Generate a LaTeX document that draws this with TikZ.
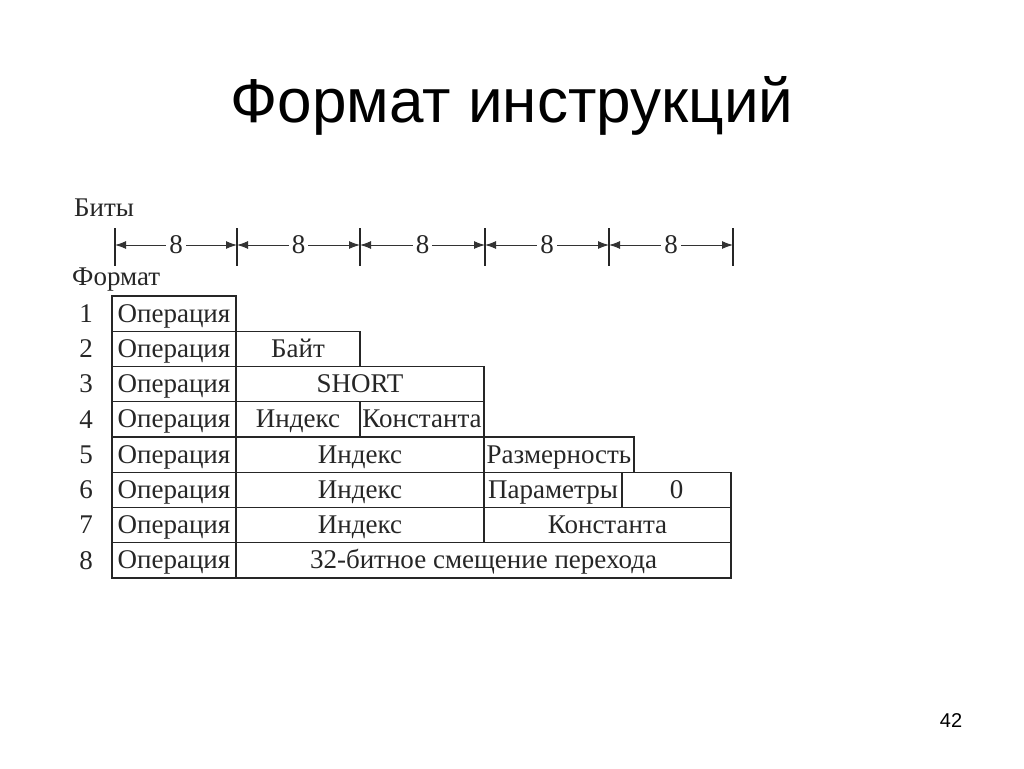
\documentclass[tikz,border=0pt]{standalone}
\usepackage{fontspec}
\setmainfont{Liberation Serif}
\newfontfamily\titlefont{Liberation Sans}
\usetikzlibrary{arrows.meta}
\begin{document}
\begin{tikzpicture}[x=1pt,y=-1pt,
  cell/.style={draw=black!85, line width=1.3pt, inner sep=0pt, outer sep=0pt,
    anchor=north west, minimum height=35.25pt, text height=20pt, text depth=3pt,
    font=\fontsize{27}{27}\selectfont, text=black!85},
  lbl/.style={font=\fontsize{27}{27}\selectfont, text=black!85, inner sep=0pt},
  dim/.style={{Latex[length=11pt,width=8pt]}-{Latex[length=11pt,width=8pt]}, line width=1pt, draw=black!80},
  tickline/.style={line width=1.4pt, draw=black!85}]
\useasboundingbox (0,0) rectangle (1024,768);

% title and page number
\node[font=\titlefont\fontsize{62}{62}\selectfont, anchor=base] (title) at (512,122) {Формат инструкций};
\node[font=\titlefont\fontsize{20}{20}\selectfont, anchor=base] (page) at (951,727) {42};

% labels
\node[lbl, anchor=base west] (bity) at (74,216) {Биты};
\node[lbl, anchor=base west] (format) at (72,285) {Формат};

% ruler
\foreach \n/\x in {0/115,1/237,2/360,3/485,4/609,5/733} {
  \coordinate (t\n) at (\x,245);
  \draw[tickline] (\x,228) -- (\x,266);
}
\foreach \a/\b in {0/1,1/2,2/3,3/4,4/5} {
  \draw[dim] (t\a) -- node[fill=white, inner sep=3pt, font=\fontsize{27}{27}\selectfont, text=black!85] (d\a) {8} (t\b);
}

% row numbers
\foreach \i in {1,...,8} {
  \node[lbl] (n\i) at (86,{278.4+35.25*\i}) {\i};
}

% row 1
\node[cell, minimum width=124pt] (op1) at (112,296) {Операция};
% row 2
\node[cell, minimum width=124pt] (op2) at (112,331.25) {Операция};
\node[cell, minimum width=124pt] (bayt) at (236,331.25) {Байт};
% row 3
\node[cell, minimum width=124pt] (op3) at (112,366.5) {Операция};
\node[cell, minimum width=248pt] (short) at (236,366.5) {SHORT};
% row 4
\node[cell, minimum width=124pt] (op4) at (112,401.75) {Операция};
\node[cell, minimum width=124pt] (idx4) at (236,401.75) {Индекс};
\node[cell, minimum width=124pt] (const4) at (360,401.75) {Константа};
% row 5
\node[cell, minimum width=124pt] (op5) at (112,437) {Операция};
\node[cell, minimum width=248pt] (idx5) at (236,437) {Индекс};
\node[cell, minimum width=150pt] (razm) at (484,437) {Размерность};
% row 6
\node[cell, minimum width=124pt] (op6) at (112,472.25) {Операция};
\node[cell, minimum width=248pt] (idx6) at (236,472.25) {Индекс};
\node[cell, minimum width=138pt] (param) at (484,472.25) {Параметры};
\node[cell, minimum width=109pt] (zero) at (622,472.25) {0};
% row 7
\node[cell, minimum width=124pt] (op7) at (112,507.5) {Операция};
\node[cell, minimum width=248pt] (idx7) at (236,507.5) {Индекс};
\node[cell, minimum width=247pt] (const7) at (484,507.5) {Константа};
% row 8
\node[cell, minimum width=124pt] (op8) at (112,542.75) {Операция};
\node[cell, minimum width=495pt] (off) at (236,542.75) {32-битное смещение перехода};
\end{tikzpicture}
\end{document}
